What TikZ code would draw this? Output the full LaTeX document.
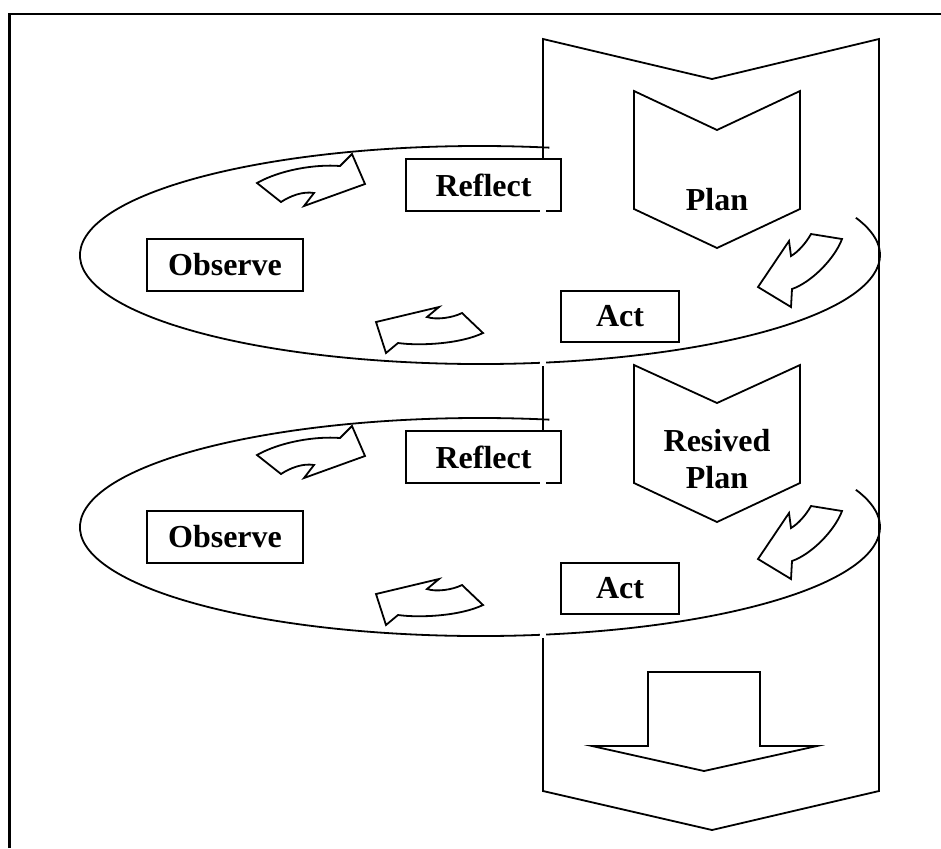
\documentclass[tikz,border=0pt]{standalone}
\usepackage{fontspec}
\setmainfont{Liberation Serif}
\usetikzlibrary{shapes,arrows}
\tikzstyle{line} = [draw, line width=0.9pt]
\tikzstyle{frame} = [draw, line width=1.3pt]
\tikzstyle{gap} = [draw, white, line width=3pt]
\tikzstyle{stage} = [rectangle, draw, line width=0.9pt, inner sep=0pt, minimum width=77.5pt, minimum height=26pt, text centered]
\tikzstyle{act} = [stage, minimum width=59pt, minimum height=25.5pt]

\begin{document}
\begin{tikzpicture}[x=0.5pt, y=-0.5pt, font=\fontsize{16}{18.5}\selectfont\bfseries]
\useasboundingbox (0,0) rectangle (941,848);
\path[frame] (9.5,848) -- (9.5,14) -- (941,14);

\path[line] (543,159) -- (543,39) -- (712,79) -- (879,39) -- (879,791) -- (712,830) -- (543,791) -- (543,638);
\path[line] (543,366) -- (543,431);

\path[line] (480,255) ++(-80:400 and 109) arc[start angle=-80, end angle=-380, x radius=400, y radius=109];
\path[line] (480,527) ++(-80:400 and 109) arc[start angle=-80, end angle=-380, x radius=400, y radius=109];

\node[stage] (refl1) at (483.5,185) {Reflect};
\node[stage, minimum width=78pt] (obs1) at (225,265) {Observe};
\node[act] (act1) at (620,316.5) {Act};

\node[stage, below of=refl1, node distance=136pt] (refl2) {Reflect};
\node[stage, minimum width=78pt, below of=obs1, node distance=136pt] (obs2) {Observe};
\node[act, below of=act1, node distance=136pt] (act2) {Act};

\path[gap] (543,209) -- (543,365);
\path[gap] (543,481) -- (543,637);

\path[line] (634,91) -- (717,130) -- (800,91) -- (800,209) -- (717,248) -- (634,209) -- cycle;
\node (plan1) at (717,200) {Plan};
\path[line] (634,365) -- (717,403) -- (800,365) -- (800,483) -- (717,522) -- (634,483) -- cycle;
\node[align=center] (plan2) at (717,459) {Resived\\Plan};

\path[line] (257,183) .. controls (280,170) and (315,164) .. (340,166) -- (352,154) -- (365,184) -- (304,206) -- (314,193) .. controls (303,191) and (290,196) .. (281,202) -- cycle;
\path[line] (483,333) -- (462,313) .. controls (452,318) and (436,320) .. (427,317) -- (439,307) -- (376,322) -- (386,353) -- (398,343) .. controls (420,346) and (460,344) .. (483,333) -- cycle;
\path[line] (811,234) -- (842,239) .. controls (835,258) and (812,282) .. (792,289) -- (791,307) -- (758,287) -- (789,241) -- (791,256) .. controls (798,252) and (806,243) .. (811,234) -- cycle;

\begin{scope}[shift={(0,272)}]
\path[line] (257,183) .. controls (280,170) and (315,164) .. (340,166) -- (352,154) -- (365,184) -- (304,206) -- (314,193) .. controls (303,191) and (290,196) .. (281,202) -- cycle;
\path[line] (483,333) -- (462,313) .. controls (452,318) and (436,320) .. (427,317) -- (439,307) -- (376,322) -- (386,353) -- (398,343) .. controls (420,346) and (460,344) .. (483,333) -- cycle;
\path[line] (811,234) -- (842,239) .. controls (835,258) and (812,282) .. (792,289) -- (791,307) -- (758,287) -- (789,241) -- (791,256) .. controls (798,252) and (806,243) .. (811,234) -- cycle;
\end{scope}

\path[line] (648,672) -- (760,672) -- (760,746) -- (817,746) -- (704,771) -- (592,746) -- (648,746) -- cycle;
\end{tikzpicture}
\end{document}
